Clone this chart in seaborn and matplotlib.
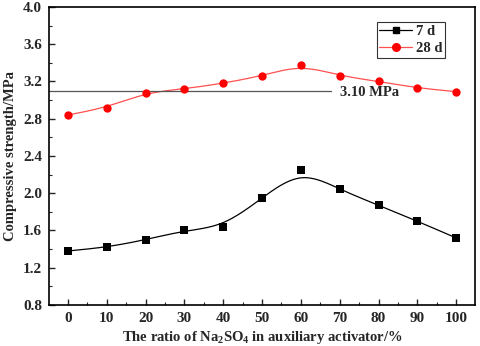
import numpy as np
import pandas as pd
import matplotlib
matplotlib.use("Agg")
import matplotlib.pyplot as plt
from matplotlib.lines import Line2D
import seaborn as sns

ratio = [0, 10, 20, 30, 40, 50, 60, 70, 80, 90, 100]
strength_7d = [1.38, 1.42, 1.50, 1.60, 1.64, 1.95, 2.25, 2.04, 1.87, 1.70, 1.52]
strength_28d = [2.84, 2.92, 3.08, 3.12, 3.18, 3.26, 3.38, 3.26, 3.20, 3.13, 3.09]
threshold = 3.10
threshold_label = "3.10 MPa"
series_names = ["7 d", "28 d"]
yticks = [0.8, 1.2, 1.6, 2.0, 2.4, 2.8, 3.2, 3.6, 4.0]
xticks = ratio


def bspline(xs, ys, n=30):
    """Uniform cubic B-spline using the data as control points (Origin-style)."""
    P = np.column_stack([xs, ys]).astype(float)
    P = np.vstack([2 * P[0] - P[1], P, 2 * P[-1] - P[-2]])
    out = []
    for i in range(len(P) - 3):
        t = np.linspace(0, 1, n, endpoint=(i == len(P) - 4))[:, None]
        b0 = (1 - t) ** 3 / 6
        b1 = (3 * t ** 3 - 6 * t ** 2 + 4) / 6
        b2 = (-3 * t ** 3 + 3 * t ** 2 + 3 * t + 1) / 6
        b3 = t ** 3 / 6
        out.append(b0 * P[i] + b1 * P[i + 1] + b2 * P[i + 2] + b3 * P[i + 3])
    out = np.vstack(out)
    return out[:, 0], out[:, 1]


sns.set_theme(style="white")
plt.rcParams["font.family"] = ["Liberation Serif", "DejaVu Serif"]
plt.rcParams["font.weight"] = "bold"
plt.rcParams["mathtext.fontset"] = "custom"
plt.rcParams["mathtext.rm"] = "Liberation Serif:bold"
plt.rcParams["mathtext.it"] = "Liberation Serif:bold"
plt.rcParams["mathtext.bf"] = "Liberation Serif:bold"

fig = plt.figure(figsize=(4.8, 3.46), dpi=100)
ax = fig.add_axes([0.102, 0.1185, 0.888, 0.8615])

sx7, sy7 = bspline(ratio, strength_7d)
sx28, sy28 = bspline(ratio, strength_28d)
sns.lineplot(x=sx7, y=sy7, ax=ax, color="black", lw=0.9, sort=False, estimator=None)
sns.lineplot(x=sx28, y=sy28, ax=ax, color="#ff5050", lw=0.9, sort=False, estimator=None)
sns.scatterplot(x=ratio, y=strength_7d, ax=ax, marker="s", color="black", s=30, linewidth=0, zorder=3)
sns.scatterplot(x=ratio, y=strength_28d, ax=ax, marker="o", color="#ff0000", s=36, linewidth=0, zorder=3)

ax.plot([-4.9, 67.7], [threshold, threshold], color="#555555", lw=0.9)
ax.text(70, threshold - 0.02, threshold_label, fontsize=10.5, fontweight="bold", va="center", ha="left")

ax.set_xlim(-4.9, 104.9)
ax.set_ylim(0.8, 4.0)
ax.set_xticks(xticks)
ax.set_yticks(yticks)
ax.set_yticklabels([f"{v:.1f}" for v in yticks])
ax.set_xticks(np.arange(5, 100, 10), minor=True)
ax.set_yticks(np.arange(1.0, 4.0, 0.4), minor=True)
ax.tick_params(axis="both", which="major", direction="in", length=4, width=1, labelsize=11,
               bottom=True, left=True, pad=5)
ax.tick_params(axis="both", which="minor", direction="in", length=2, width=0.8,
               bottom=True, left=True)
for lab in ax.get_xticklabels() + ax.get_yticklabels():
    lab.set_fontweight("bold")
for sp in ax.spines.values():
    sp.set_color("black")
    sp.set_linewidth(1.2)

ax.set_xlabel("The ratio of Na$_2$SO$_4$ in auxiliary activator/%", fontsize=10.5, fontweight="bold", labelpad=3)
ax.set_ylabel("Compressive strength/MPa", fontsize=10.5, fontweight="bold", labelpad=4)

handles = [
    Line2D([], [], color="black", lw=0.9, marker="s", markersize=5),
    Line2D([], [], color="#ff5050", lw=0.9, marker="o", markerfacecolor="#ff0000",
           markeredgecolor="#ff0000", markersize=5.5),
]
leg = ax.legend(handles, series_names, loc="upper right", bbox_to_anchor=(0.93, 0.95),
                borderaxespad=0, fontsize=10.5, frameon=True, fancybox=False, edgecolor="black",
                handlelength=2.2, borderpad=0.2, labelspacing=0.25, handletextpad=0.3)
leg.get_frame().set_linewidth(0.8)
for t in leg.get_texts():
    t.set_fontweight("bold")

fig.savefig("out.png", dpi=100)
